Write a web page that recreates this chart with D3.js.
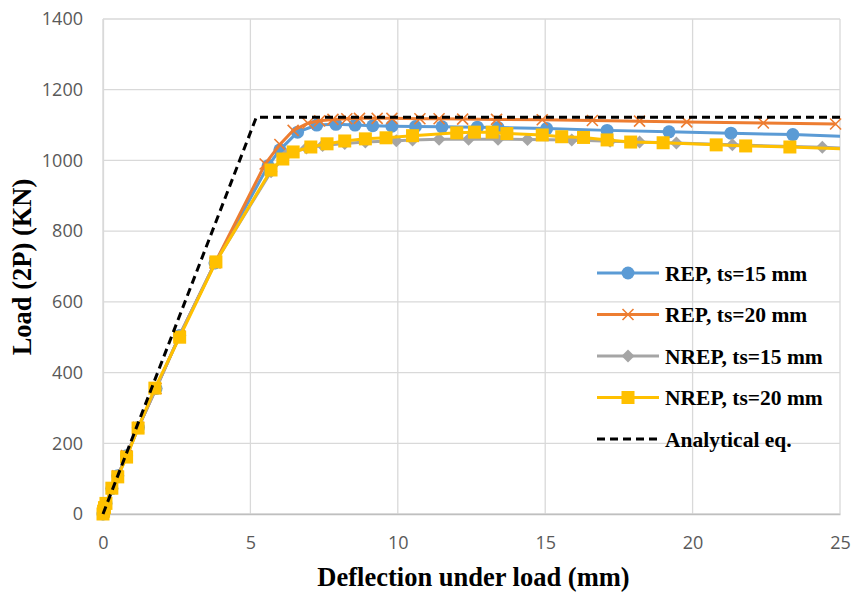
<!DOCTYPE html>
<html>
<head>
<meta charset="utf-8">
<script src="https://cdn.jsdelivr.net/npm/d3@7"></script>
<style>
  body { margin: 0; background: #fff; }
  .tick text { font-family: "Open Sans", sans-serif; font-size: 18px; fill: #595959; }
  .title { font-family: "Liberation Serif", "Times New Roman", serif; font-weight: bold; font-size: 26.5px; fill: #000; }
  .leg { font-family: "Liberation Serif", "Times New Roman", serif; font-weight: bold; font-size: 21.5px; fill: #000; }
</style>
</head>
<body>
<div id="chart"></div>
<script>
//data
var xTicks = [0, 5, 10, 15, 20, 25];
var yTicks = [0, 200, 400, 600, 800, 1000, 1200, 1400];

var rep15X = [0, 0.02, 0.05, 0.1, 0.3, 0.5, 0.8, 1.2, 1.8, 2.6, 3.8, 5.6, 6.0, 6.6, 7.25, 7.9, 8.55, 9.15, 9.8, 10.6, 11.5, 12.7, 13.4, 15.05, 17.1, 19.2, 21.3, 23.4, 25.6];
var rep15Y = [0, 8, 18, 30, 72, 108, 165, 245, 355, 505, 710, 985, 1030, 1080, 1100, 1102, 1100, 1098, 1097, 1096, 1095, 1094, 1093, 1090, 1085, 1081, 1077, 1073, 1067];

var rep20X = [0, 0.02, 0.05, 0.1, 0.3, 0.5, 0.8, 1.2, 1.8, 2.6, 3.8, 5.5, 6.0, 6.45, 6.95, 7.35, 7.8, 8.27, 8.7, 9.3, 9.8, 10.75, 11.4, 12.2, 13.35, 14.9, 16.6, 18.2, 19.8, 22.4, 24.85];
var rep20Y = [0, 8, 18, 30, 72, 108, 165, 245, 355, 505, 710, 990, 1045, 1085, 1105, 1112, 1116, 1118, 1119, 1119, 1119, 1118, 1118, 1117, 1116, 1115, 1113, 1111, 1109, 1106, 1103];

var nrep15X = [0, 0.02, 0.05, 0.1, 0.3, 0.5, 0.8, 1.2, 1.8, 2.6, 3.8, 5.7, 6.25, 6.9, 7.45, 8.2, 8.9, 9.95, 10.5, 11.4, 12.4, 13.4, 14.4, 15.9, 17.2, 18.2, 19.45, 21.35, 24.4, 25.6];
var nrep15Y = [0, 8, 18, 30, 72, 108, 165, 245, 355, 505, 710, 968, 1018, 1035, 1042, 1048, 1052, 1056, 1058, 1060, 1060, 1060, 1059, 1058, 1054, 1052, 1049, 1044, 1037, 1034];

var nrep20X = [0, 0.02, 0.05, 0.1, 0.3, 0.5, 0.8, 1.19, 1.76, 2.6, 3.83, 5.7, 6.1, 6.45, 7.05, 7.6, 8.2, 8.9, 9.6, 10.5, 12.0, 12.6, 13.2, 13.7, 14.9, 15.56, 16.3, 17.1, 17.9, 19.0, 20.8, 21.8, 23.3, 26];
var nrep20Y = [0, 8, 18, 30, 73, 105, 161, 243, 356, 500, 713, 973, 1004, 1024, 1038, 1047, 1055, 1061, 1064, 1070, 1078, 1080, 1080, 1076, 1072, 1067, 1065, 1058, 1052, 1050, 1044, 1041, 1038, 1030];

var analX = [0, 5.2, 25];
var analY = [0, 1122, 1122];

var names = ["REP, ts=15 mm", "REP, ts=20 mm", "NREP, ts=15 mm", "NREP, ts=20 mm", "Analytical eq."];
var colors = ["#5B9BD5", "#ED7D31", "#A5A5A5", "#FFC000", "#000000"];

//setup spacing size
var svg_w = 851;
var svg_h = 594;
var margin = {top: 19, right: 11, bottom: 80, left: 103};
var width = svg_w - margin.left - margin.right;
var height = svg_h - margin.top - margin.bottom;

function zip(xs, ys) {
  return xs.map(function(x, i) { return {x: x, y: ys[i]}; });
}

var series = [
  {name: names[0], color: colors[0], marker: "circle", pts: zip(rep15X, rep15Y)},
  {name: names[1], color: colors[1], marker: "cross", pts: zip(rep20X, rep20Y)},
  {name: names[2], color: colors[2], marker: "diamond", pts: zip(nrep15X, nrep15Y)},
  {name: names[3], color: colors[3], marker: "square", pts: zip(nrep20X, nrep20Y)},
  {name: names[4], color: colors[4], marker: "none", dash: true, pts: zip(analX, analY)}
];

var svg = d3.select("#chart").append("svg")
  .attr("width", svg_w)
  .attr("height", svg_h);

var g = svg.append("g")
  .attr("transform", "translate(" + margin.left + "," + margin.top + ")");

var xScale = d3.scaleLinear().domain([0, 25]).range([0, width]);
var yScale = d3.scaleLinear().domain([0, 1400]).range([height, 0]);

//gridlines
g.append("g")
  .selectAll("line.hg").data(yTicks).enter().append("line")
  .attr("x1", 0).attr("x2", width)
  .attr("y1", function(d) { return yScale(d); })
  .attr("y2", function(d) { return yScale(d); })
  .attr("stroke", "#d9d9d9").attr("stroke-width", 1.3);

g.append("g")
  .selectAll("line.vg").data(xTicks).enter().append("line")
  .attr("y1", 0).attr("y2", height)
  .attr("x1", function(d) { return xScale(d); })
  .attr("x2", function(d) { return xScale(d); })
  .attr("stroke", "#d9d9d9").attr("stroke-width", 1.3);

//axes
var xAxis = g.append("g")
  .attr("transform", "translate(0," + height + ")")
  .call(d3.axisBottom(xScale).tickValues(xTicks).tickFormat(d3.format("d")).tickSize(0).tickPadding(22));
xAxis.select(".domain").attr("stroke", "#bfbfbf").attr("stroke-width", 1.3);

var yAxis = g.append("g")
  .call(d3.axisLeft(yScale).tickValues(yTicks).tickFormat(d3.format("d")).tickSize(0).tickPadding(20));
yAxis.select(".domain").attr("stroke", "#d9d9d9").attr("stroke-width", 1.3);

//clip lines to the plot area (with room at the bottom-left)
svg.append("defs").append("clipPath").attr("id", "clip")
  .append("rect").attr("x", -10).attr("y", -10).attr("width", width + 10).attr("height", height + 20);

var line = d3.line()
  .x(function(d) { return xScale(d.x); })
  .y(function(d) { return yScale(d.y); });

function drawMarker(sel, type, color) {
  if (type === "circle") {
    sel.append("circle").attr("r", 6.5).attr("fill", color);
  } else if (type === "cross") {
    sel.append("path").attr("d", "M-5.5,-5.5L5.5,5.5M-5.5,5.5L5.5,-5.5")
      .attr("stroke", color).attr("stroke-width", 1.6).attr("fill", "none");
  } else if (type === "diamond") {
    sel.append("path").attr("d", "M0,-6.5L6.5,0L0,6.5L-6.5,0Z").attr("fill", color);
  } else if (type === "square") {
    sel.append("rect").attr("x", -6.5).attr("y", -6.5).attr("width", 13).attr("height", 13).attr("fill", color);
  }
}

series.forEach(function(s) {
  var sg = g.append("g");
  sg.append("path")
    .datum(s.pts)
    .attr("clip-path", "url(#clip)")
    .attr("fill", "none")
    .attr("stroke", s.color)
    .attr("stroke-width", 3)
    .attr("stroke-dasharray", s.dash ? "8,5" : null)
    .attr("d", line);

  if (s.marker !== "none") {
    sg.selectAll("g.m")
      .data(s.pts.filter(function(d) { return d.x <= 25; }))
      .enter().append("g")
      .attr("transform", function(d) { return "translate(" + xScale(d.x) + "," + yScale(d.y) + ")"; })
      .each(function() { drawMarker(d3.select(this), s.marker, s.color); });
  }
});

//legend
var legend = svg.append("g").selectAll("g.legend")
  .data(series).enter().append("g")
  .attr("transform", function(d, i) { return "translate(597," + (273 + i * 41.5) + ")"; });

legend.append("line")
  .attr("x1", 0).attr("x2", 62)
  .attr("stroke", function(d) { return d.color; })
  .attr("stroke-width", 3)
  .attr("stroke-dasharray", function(d) { return d.dash ? "8,5" : null; });

legend.each(function(d) {
  var m = d3.select(this).append("g").attr("transform", "translate(31,0)");
  drawMarker(m, d.marker, d.color);
});

legend.append("text")
  .attr("class", "leg")
  .attr("x", 68)
  .attr("dy", "0.35em")
  .text(function(d) { return d.name; });

//axis titles
svg.append("text")
  .attr("class", "title")
  .attr("text-anchor", "middle")
  .attr("x", margin.left + width / 2 + 2)
  .attr("y", 586)
  .text("Deflection under load (mm)");

svg.append("text")
  .attr("class", "title")
  .attr("text-anchor", "middle")
  .attr("transform", "translate(31," + 267 + ") rotate(-90)")
  .text("Load (2P) (KN)");
</script>
</body>
</html>
